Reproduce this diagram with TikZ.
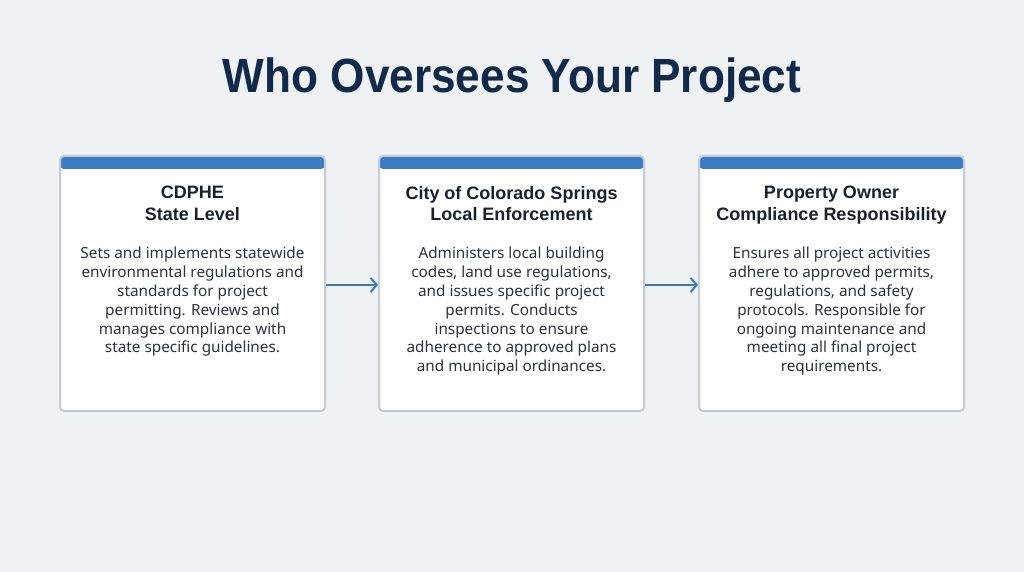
\documentclass[tikz,border=0pt]{standalone}
\usepackage{fontspec}
\setmainfont{Liberation Sans}
\newfontfamily\cardfont{Noto Sans}
\usetikzlibrary{arrows.meta}
\definecolor{bg}{HTML}{EEF2F5}
\definecolor{navy}{HTML}{12294A}
\definecolor{barblue}{HTML}{3C7BC6}
\definecolor{arrowblue}{HTML}{3D7AB8}
\definecolor{bordergray}{HTML}{C6CBD2}
\definecolor{headcol}{HTML}{1B212C}
\definecolor{bodycol}{HTML}{2C323A}
\tikzset{
  card/.style={draw=bordergray, line width=2pt, fill=white, rounded corners=4pt,
    minimum width=265pt, minimum height=255pt, inner sep=0pt,
    path picture={\fill[barblue] (path picture bounding box.north west) rectangle ([yshift=-13pt]path picture bounding box.north east);}},
  head/.style={font=\fontsize{18}{21.5}\selectfont\bfseries, text=headcol, align=center, inner sep=0pt, anchor=north},
  body/.style={font=\cardfont\fontsize{15.3}{18.8}\selectfont, text=bodycol, align=center, inner sep=0pt, anchor=north},
  flow/.style={draw=arrowblue, line width=2pt, -{Straight Barb[length=6pt,width=14pt,line width=2pt]}}
}
\begin{document}
\begin{tikzpicture}[x=1pt,y=-1pt]
\fill[bg] (0,0) rectangle (1024,572);
\useasboundingbox (0,0) rectangle (1024,572);
\node[font=\fontsize{48}{56}\selectfont\bfseries, text=navy] (title) at (512,80) {\scalebox{0.92}[1]{Who Oversees Your Project}};

\node[card] (b1) at (192.5,283.5) {};
\node[card] (b2) at (511.5,283.5) {};
\node[card] (b3) at (831.5,283.5) {};

\node[head] (h1) at (192.5,186) {CDPHE\\State Level};
\node[head] (h2) at (511.5,186) {City of Colorado Springs\\Local Enforcement};
\node[head] (h3) at (831.5,186) {Property Owner\\Compliance Responsibility};

\node[body] (t1) at (192.5,247) {Sets and implements statewide\\environmental regulations and\\standards for project\\permitting. Reviews and\\manages compliance with\\state specific guidelines.};
\node[body] (t2) at (511.5,247) {Administers local building\\codes, land use regulations,\\and issues specific project\\permits. Conducts\\inspections to ensure\\adherence to approved plans\\and municipal ordinances.};
\node[body] (t3) at (831.5,247) {Ensures all project activities\\adhere to approved permits,\\regulations, and safety\\protocols. Responsible for\\ongoing maintenance and\\meeting all final project\\requirements.};

\draw[flow] ([yshift=-1.5pt]b1.east) -- ([yshift=-1.5pt]b2.west);
\draw[flow] ([yshift=-1.5pt]b2.east) -- ([yshift=-1.5pt]b3.west);
\end{tikzpicture}
\end{document}
